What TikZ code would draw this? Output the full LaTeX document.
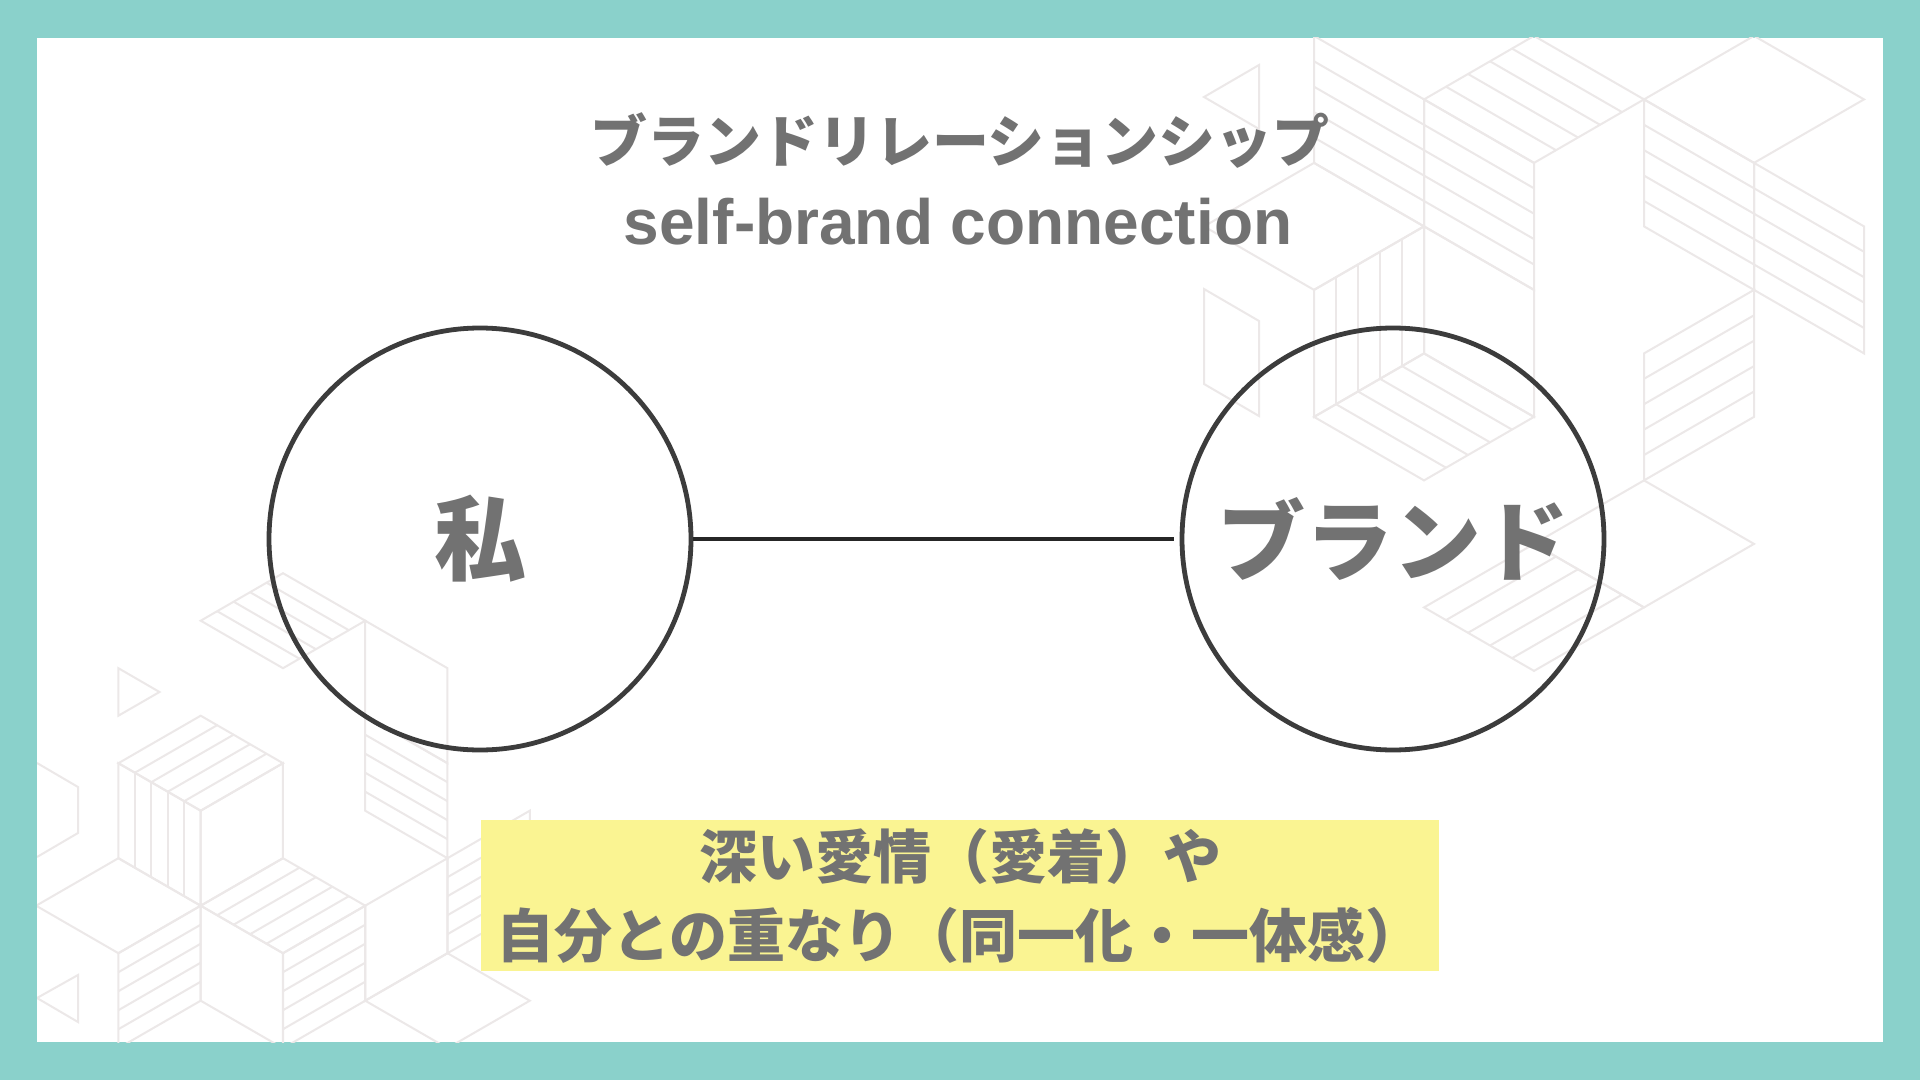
\documentclass[tikz,border=0pt]{standalone}
\usepackage{fontspec}
\setmainfont{Liberation Sans}
\newfontfamily\jpfont{Noto Sans CJK JP}
\definecolor{frameteal}{RGB}{138,209,203}
\definecolor{textgray}{RGB}{114,114,114}
\definecolor{ringgray}{RGB}{60,60,60}
\definecolor{notefill}{RGB}{250,244,146}
\definecolor{hexgray}{RGB}{236,232,232}

\tikzset{
  hexline/.style={draw=hexgray, line width=1pt},
  titlejp/.style={text=textgray, font=\jpfont\bfseries\fontsize{28.5}{34}\selectfont},
  titleen/.style={text=textgray, font=\bfseries\fontsize{32}{38}\selectfont, anchor=base},
  ring/.style={circle, draw=ringgray, line width=2.4pt, minimum size=211pt, inner sep=0pt,
    text=textgray, font=\jpfont\bfseries\fontsize{46}{50}\selectfont},
  link/.style={draw=black!85, line width=1.6pt},
  notebox/.style={fill=notefill, minimum width=479pt, minimum height=75.5pt, inner sep=0pt,
    align=center, text=textgray, font=\jpfont\bfseries\fontsize{29}{39.5}\selectfont}
}

% background faces of the iso grid: top corner x, y, edge, hatch (0 none)
\newcommand{\flatface}[4]{%
  \begin{scope}[shift={(#1,#2)},scale=#3]
    \draw[hexline] (0,0) -- (0.866,0.5) -- (0,1) -- (-0.866,0.5) -- cycle;
    \ifcase#4\relax\or
      \foreach \q in {0.2,0.4,0.6,0.8}
        \draw[hexline] ({-0.866*\q},{0.5*\q}) -- ({0.866-0.866*\q},{0.5+0.5*\q});
    \or
      \foreach \q in {0.2,0.4,0.6,0.8}
        \draw[hexline] ({0.866*\q},{0.5*\q}) -- ({-0.866+0.866*\q},{0.5+0.5*\q});
    \fi
  \end{scope}}
\newcommand{\downface}[4]{%
  \begin{scope}[shift={(#1,#2)},scale=#3]
    \draw[hexline] (0,0) -- (0.866,0.5) -- (0.866,1.5) -- (0,1) -- cycle;
    \ifcase#4\relax\or
      \foreach \q in {0.2,0.4,0.6,0.8}
        \draw[hexline] ({0.866*\q},{0.5*\q}) -- ({0.866*\q},{1+0.5*\q});
    \or
      \foreach \q in {0.2,0.4,0.6,0.8}
        \draw[hexline] (0,\q) -- (0.866,{0.5+\q});
    \fi
  \end{scope}}
\newcommand{\upface}[4]{%
  \begin{scope}[shift={(#1,#2)},scale=#3]
    \draw[hexline] (0,0) -- (0.866,-0.5) -- (0.866,0.5) -- (0,1) -- cycle;
    \ifcase#4\relax\or
      \foreach \q in {0.2,0.4,0.6,0.8}
        \draw[hexline] ({0.866*\q},{-0.5*\q}) -- ({0.866*\q},{1-0.5*\q});
    \or
      \foreach \q in {0.2,0.4,0.6,0.8}
        \draw[hexline] (0,\q) -- (0.866,{-0.5+\q});
    \fi
  \end{scope}}

\begin{document}
\begin{tikzpicture}[x=0.5pt,y=-0.5pt]
  \useasboundingbox (0,0) rectangle (1920,1080);
  \fill[frameteal] (0,0) rectangle (1920,1080);
  \fill[white] (37,38) rectangle (1883,1042);

  % background pattern
  \begin{scope}
    \clip (37,38) rectangle (1883,1042);
    % lower left
    \flatface{283}{573.2}{95}{1}
    \downface{365.2}{620.7}{95}{0}
    \flatface{200.7}{715.7}{95}{2}
    \downface{118.4}{763.2}{95}{1}
    \upface{200.7}{810.7}{95}{0}
    \downface{365.2}{715.7}{95}{2}
    \flatface{118.4}{858.2}{95}{0}
    \flatface{283}{858.2}{95}{2}
    \upface{447.5}{858.2}{95}{2}
    \upface{118.4}{953.2}{95}{2}
    \downface{200.7}{905.7}{95}{0}
    \upface{283}{953.2}{95}{2}
    \upface{365.2}{905.7}{95}{0}
    \flatface{447.5}{953.2}{95}{0}
    \draw[hexline] (118.4,668.2) -- (159.5,692) -- (118.4,715.7) -- cycle;
    \draw[hexline] (37,763) -- (78,787) -- (78,833) -- (37,857);
    \draw[hexline] (78,975) -- (37,998) -- (78,1022) -- cycle;
    % upper right
    \downface{1314}{35.9}{127}{2}
    \flatface{1534}{35.9}{127}{1}
    \downface{1424}{99.4}{127}{2}
    \downface{1644}{99.4}{127}{2}
    \flatface{1754}{35.9}{127}{0}
    \flatface{1314}{162.9}{127}{0}
    \downface{1754}{162.9}{127}{2}
    \upface{1314}{289.9}{127}{1}
    \downface{1424}{226.4}{127}{0}
    \flatface{1424}{353.4}{127}{1}
    \upface{1644}{353.4}{127}{2}
    \flatface{1644}{480.4}{127}{0}
    \flatface{1534}{543.9}{127}{2}
    \draw[hexline] (1204,97) -- (1259,65) -- (1259,129) -- cycle;
    \draw[hexline] (1204,289) -- (1259,321) -- (1259,416) -- (1204,384) -- cycle;
  \end{scope}

  \node[titlejp] (title) at (960,141) {ブランドリレーションシップ};
  \node[titleen] (subtitle) at (958,245) {self-brand connection};

  \node[ring] (wa) at (480,539) {私};
  \node[ring, font=\jpfont\bfseries\fontsize{44}{48}\selectfont] (brand) at (1393,539) {ブランド};
  \draw[link, shorten >=3pt] (wa) -- (brand);

  \node[notebox] (note) at (960,895.5) {深い愛情（愛着）や\\自分との重なり（同一化・一体感）};
\end{tikzpicture}
\end{document}
